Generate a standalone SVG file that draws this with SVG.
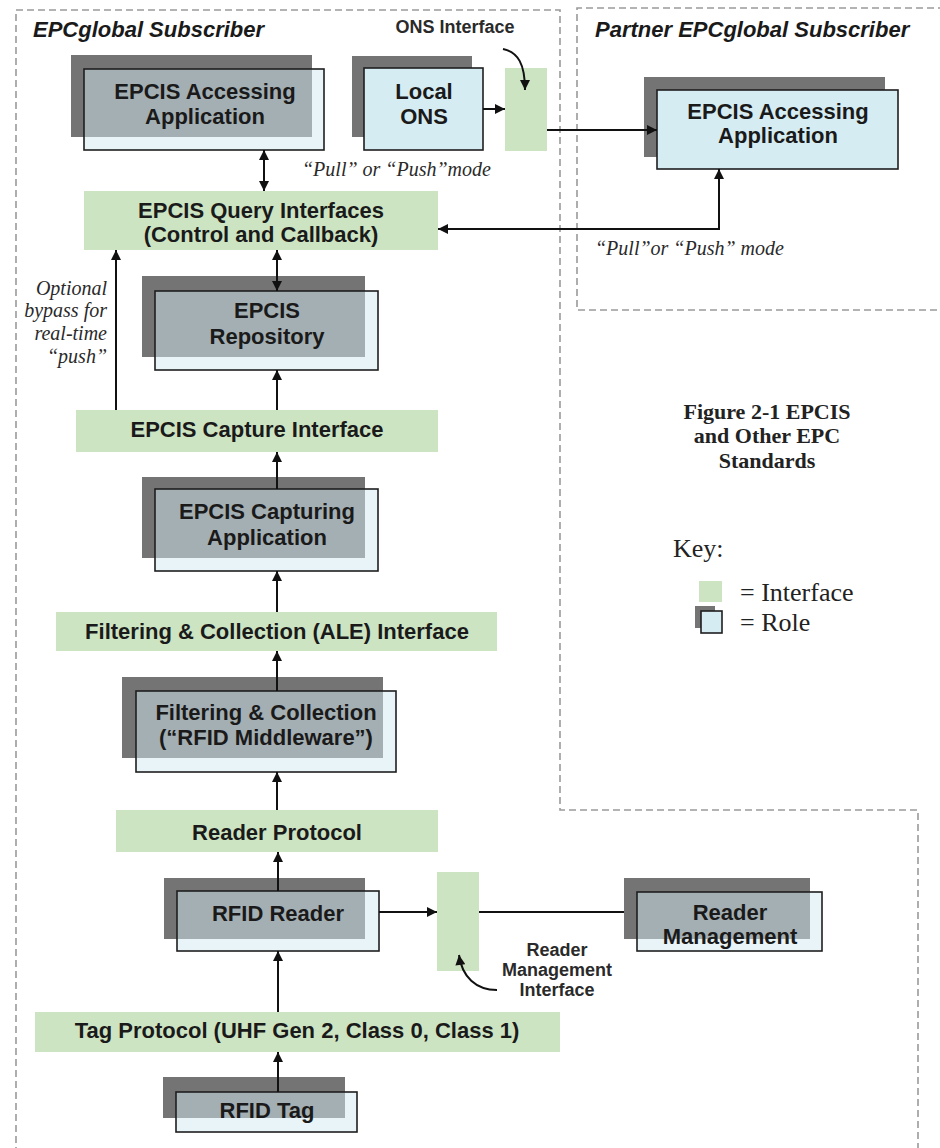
<svg xmlns="http://www.w3.org/2000/svg" width="940" height="1148" viewBox="0 0 940 1148">
<style>
.bg{fill:#ffffff}
.dash{fill:none;stroke:#9a9a9a;stroke-width:1.6;stroke-dasharray:7 4}
.iface{fill:#cde4c3}
.shadow{fill:#747474}
.front{fill:#d3eaf2;fill-opacity:0.5;stroke:#1e1e1e;stroke-width:1.6}
.frontop{fill:#d6ecf3;stroke:#1e1e1e;stroke-width:1.6}
.lbl{font-family:"Liberation Sans",Arial,sans-serif;font-weight:bold;font-size:22px;fill:#1a1a1a;text-anchor:middle}
.title{font-family:"Liberation Sans",Arial,sans-serif;font-weight:bold;font-style:italic;font-size:22px;fill:#1a1a1a}
.small{font-family:"Liberation Sans",Arial,sans-serif;font-weight:bold;font-size:18px;fill:#2a2a2a;text-anchor:middle}
.note{font-family:"Liberation Serif","Times New Roman",serif;font-style:italic;font-size:20px;fill:#2a2a2a}
.cap{font-family:"Liberation Serif","Times New Roman",serif;font-weight:bold;font-size:22px;fill:#222;text-anchor:middle}
.key{font-family:"Liberation Serif","Times New Roman",serif;font-size:26px;fill:#222}
.conn{fill:none;stroke:#111;stroke-width:2}
</style>
<defs>
<marker id="ah" viewBox="0 0 10 10" refX="10" refY="5" markerWidth="11" markerHeight="10" markerUnits="userSpaceOnUse" orient="auto-start-reverse">
<path d="M0,0 L10,5 L0,10 z" fill="#111"/>
</marker>
</defs>
<rect class="bg" x="0" y="0" width="940" height="1148"/>

<g id="boundaries">
<path class="dash" d="M918,1150 V810 H560 V10 H16 V1150"/>
<path class="dash" d="M945,8 H577 V310 H945"/>
<text class="title" x="33" y="37">EPCglobal Subscriber</text>
<text class="title" x="595" y="37">Partner EPCglobal Subscriber</text>
</g>

<g id="accessing-app">
<rect class="shadow" x="71" y="55" width="241" height="82"/>
<rect class="front" x="84" y="69" width="240" height="81"/>
<text class="lbl" x="205" y="99">EPCIS Accessing</text>
<text class="lbl" x="205" y="124">Application</text>
</g>

<g id="local-ons">
<rect class="shadow" x="352" y="56" width="120" height="81"/>
<rect class="frontop" x="364" y="68" width="119" height="82"/>
<text class="lbl" x="424" y="99">Local</text>
<text class="lbl" x="424" y="124">ONS</text>
</g>

<g id="ons-interface">
<rect class="iface" x="505" y="68" width="42" height="83"/>
<text class="small" x="455" y="33">ONS Interface</text>
</g>

<g id="partner-app">
<rect class="shadow" x="644" y="77" width="241" height="80"/>
<rect class="frontop" x="657" y="90" width="241" height="79"/>
<text class="lbl" x="778" y="119">EPCIS Accessing</text>
<text class="lbl" x="778" y="143">Application</text>
</g>

<g id="query-interfaces">
<rect class="iface" x="84" y="191" width="354" height="59"/>
<text class="lbl" x="261" y="218">EPCIS Query Interfaces</text>
<text class="lbl" x="261" y="242">(Control and Callback)</text>
</g>

<g id="repository">
<rect class="shadow" x="142" y="276" width="223" height="81"/>
<rect class="front" x="155" y="291" width="223" height="79"/>
<text class="lbl" x="267" y="318">EPCIS</text>
<text class="lbl" x="267" y="344">Repository</text>
</g>

<g id="capture-interface">
<rect class="iface" x="76" y="410" width="362" height="42"/>
<text class="lbl" x="257" y="437">EPCIS Capture Interface</text>
</g>

<g id="capturing-app">
<rect class="shadow" x="142" y="477" width="223" height="81"/>
<rect class="front" x="155" y="489" width="223" height="82"/>
<text class="lbl" x="267" y="519">EPCIS Capturing</text>
<text class="lbl" x="267" y="545">Application</text>
</g>

<g id="ale-interface">
<rect class="iface" x="56" y="612" width="441" height="39"/>
<text class="lbl" x="277" y="639">Filtering &amp; Collection (ALE) Interface</text>
</g>

<g id="filtering-collection">
<rect class="shadow" x="122" y="677" width="261" height="81"/>
<rect class="front" x="136" y="691" width="260" height="81"/>
<text class="lbl" x="266" y="720">Filtering &amp; Collection</text>
<text class="lbl" x="266" y="745">(“RFID Middleware”)</text>
</g>

<g id="reader-protocol">
<rect class="iface" x="116" y="810" width="322" height="42"/>
<text class="lbl" x="277" y="840">Reader Protocol</text>
</g>

<g id="rfid-reader">
<rect class="shadow" x="164" y="878" width="201" height="61"/>
<rect class="front" x="177" y="891" width="202" height="60"/>
<text class="lbl" x="278" y="921">RFID Reader</text>
</g>

<g id="reader-mgmt-interface">
<rect class="iface" x="437" y="872" width="42" height="99"/>
<text class="small" x="557" y="956">Reader</text>
<text class="small" x="557" y="976">Management</text>
<text class="small" x="557" y="996">Interface</text>
</g>

<g id="reader-management">
<rect class="shadow" x="624" y="878" width="186" height="61"/>
<rect class="front" x="637" y="892" width="185" height="59"/>
<text class="lbl" x="730" y="920">Reader</text>
<text class="lbl" x="730" y="944">Management</text>
</g>

<g id="tag-protocol">
<rect class="iface" x="35" y="1012" width="525" height="40"/>
<text class="lbl" x="297" y="1038">Tag Protocol (UHF Gen 2, Class 0, Class 1)</text>
</g>

<g id="rfid-tag">
<rect class="shadow" x="163" y="1077" width="182" height="41"/>
<rect class="front" x="176" y="1092" width="181" height="40"/>
<text class="lbl" x="267" y="1118">RFID Tag</text>
</g>

<g id="caption">
<text class="cap" x="767" y="419">Figure 2-1 EPCIS</text>
<text class="cap" x="767" y="443">and Other EPC</text>
<text class="cap" x="767" y="468">Standards</text>
</g>

<g id="legend">
<text class="key" x="673" y="557">Key:</text>
<rect class="iface" x="699" y="581" width="23" height="21"/>
<text class="key" x="740" y="601">= Interface</text>
<rect class="shadow" x="695" y="606" width="20" height="22"/>
<rect class="frontop" x="701" y="611" width="21" height="22"/>
<text class="key" x="740" y="631">= Role</text>
</g>

<g id="notes">
<text class="note" x="302" y="176">“Pull” or “Push”mode</text>
<text class="note" x="595" y="255">“Pull”or “Push” mode</text>
<text class="note" x="107" y="295" text-anchor="end">Optional</text>
<text class="note" x="107" y="317" text-anchor="end">bypass for</text>
<text class="note" x="107" y="340" text-anchor="end">real-time</text>
<text class="note" x="107" y="363" text-anchor="end">“push”</text>
</g>

<g id="connectors">
<line class="conn" x1="483" y1="109" x2="505" y2="109" marker-end="url(#ah)"/>
<line class="conn" x1="547" y1="130" x2="657" y2="130" marker-end="url(#ah)"/>
<path class="conn" d="M503,49 C518,52 525,64 525,90" marker-end="url(#ah)"/>
<line class="conn" x1="264" y1="150" x2="264" y2="191" marker-start="url(#ah)" marker-end="url(#ah)"/>
<path class="conn" d="M719,169 V229 H438" marker-start="url(#ah)" marker-end="url(#ah)"/>
<line class="conn" x1="277" y1="250" x2="277" y2="291" marker-start="url(#ah)" marker-end="url(#ah)"/>
<line class="conn" x1="277" y1="410" x2="277" y2="370" marker-end="url(#ah)"/>
<line class="conn" x1="116" y1="410" x2="116" y2="250" marker-end="url(#ah)"/>
<line class="conn" x1="277" y1="489" x2="277" y2="452" marker-end="url(#ah)"/>
<line class="conn" x1="277" y1="612" x2="277" y2="571" marker-end="url(#ah)"/>
<line class="conn" x1="277" y1="691" x2="277" y2="651" marker-end="url(#ah)"/>
<line class="conn" x1="277" y1="810" x2="277" y2="772" marker-end="url(#ah)"/>
<line class="conn" x1="278" y1="891" x2="278" y2="852" marker-end="url(#ah)"/>
<line class="conn" x1="278" y1="1012" x2="278" y2="951" marker-end="url(#ah)"/>
<line class="conn" x1="278" y1="1092" x2="278" y2="1052" marker-end="url(#ah)"/>
<line class="conn" x1="379" y1="912" x2="437" y2="912" marker-end="url(#ah)"/>
<line class="conn" x1="479" y1="912" x2="624" y2="912"/>
<path class="conn" d="M497,990 C476,990 462,977 459,955" marker-end="url(#ah)"/>
</g>
</svg>
